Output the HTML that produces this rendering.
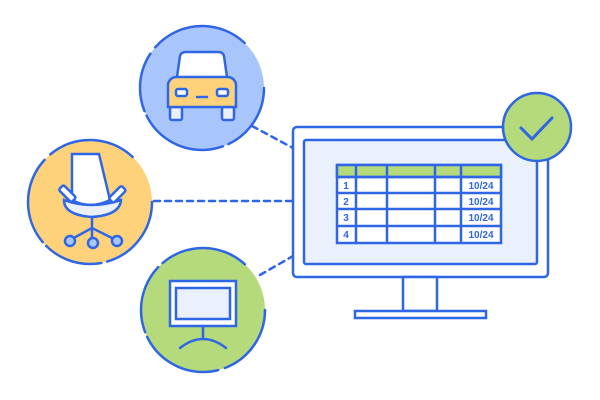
<!DOCTYPE html>
<html><head><style>body{margin:0;background:#fff}svg{display:block}</style></head><body>
<svg width="600" height="400" viewBox="0 0 600 400" xmlns="http://www.w3.org/2000/svg" font-family="Liberation Sans, sans-serif">
<g stroke="#2e66e6" stroke-width="2.5" fill="none" stroke-linecap="round">
<!-- connectors -->
<line x1="252" y1="126" x2="293" y2="148" stroke-dasharray="6 5"/>
<line x1="154" y1="201" x2="293" y2="201" stroke-dasharray="6 5"/>
<line x1="260" y1="275" x2="293" y2="256" stroke-dasharray="6 5"/>
<!-- circles -->
<circle cx="202" cy="88" r="62" fill="#a9c6fc" stroke-dasharray="70 6 90 5 60 8 100"/>
<circle cx="90" cy="202" r="62" fill="#fdd27a" stroke-dasharray="80 6 60 5 90 8 90"/>
<circle cx="203" cy="310" r="62" fill="#b5da7c" stroke-dasharray="75 7 85 5 70 6 90"/>
<!-- monitor -->
<rect x="293" y="127" width="255" height="150" rx="4" fill="#fff"/>
<rect x="304" y="140" width="233" height="124" rx="2" fill="#eaf1fd"/>
<rect x="403" y="277" width="34" height="34" fill="#fff"/>
<rect x="355" y="311" width="131" height="7" fill="#fff"/>
<!-- table -->
<rect x="337" y="165" width="164" height="78" fill="#fff"/>
<rect x="337" y="165" width="164" height="12" fill="#b5da7c"/>
<line x1="337" y1="177" x2="501" y2="177"/>
<line x1="337" y1="193" x2="501" y2="193"/>
<line x1="337" y1="209" x2="501" y2="209"/>
<line x1="337" y1="226" x2="501" y2="226"/>
<line x1="356" y1="165" x2="356" y2="243"/>
<line x1="387" y1="165" x2="387" y2="243"/>
<line x1="435" y1="165" x2="435" y2="243"/>
<line x1="461" y1="165" x2="461" y2="243"/>
<!-- check -->
<circle cx="537" cy="127" r="34" fill="#b5da7c"/>
<polyline points="521,128 532,139 552,118" stroke-width="3"/>
<!-- car -->
<path d="M177 77 L180 56 Q181 52 186 52 L218 52 Q223 52 224 56 L227 77" fill="#fff"/>
<rect x="170" y="107" width="12" height="13" rx="2" fill="#eaf1fd"/>
<rect x="222" y="107" width="12" height="13" rx="2" fill="#eaf1fd"/>
<path d="M168 107 L168 84 Q170 77 177 77 L227 77 Q234 77 236 84 L236 107 Z" fill="#fdd27a"/>
<rect x="176" y="89" width="11" height="7" rx="2" fill="#fff"/>
<rect x="217" y="89" width="11" height="7" rx="2" fill="#fff"/>
<line x1="197" y1="97" x2="207" y2="97"/>
<!-- chair -->
<path d="M72 154 L99 154 L110 200 Q90 210 72 200 Z" fill="#fff"/>
<path d="M64 200 Q90 210 121 200 Q120 215 92 217 Q64 215 64 200 Z" fill="#eaf1fd"/>
<rect x="64" y="185" width="7" height="18" rx="2" transform="rotate(-45 67 194)" fill="#fff"/>
<rect x="114" y="185" width="7" height="18" rx="2" transform="rotate(45 117 194)" fill="#fff"/>
<line x1="92" y1="217" x2="92" y2="228"/>
<polyline points="70,240 92,228 116,240" fill="none"/>
<line x1="92" y1="228" x2="92" y2="240"/>
<circle cx="70" cy="241" r="5" fill="#a9c6fc"/>
<circle cx="93" cy="243" r="5" fill="#a9c6fc"/>
<circle cx="117" cy="241" r="5" fill="#a9c6fc"/>
<!-- tv -->
<rect x="170" y="281" width="66" height="45" fill="#fff"/>
<rect x="176" y="288" width="54" height="31" fill="#eaf1fd"/>
<line x1="203" y1="326" x2="203" y2="337"/>
<path d="M180 348 Q203 330 226 348"/>
</g>
<g font-size="10" font-weight="bold" fill="#2e66e6" text-anchor="middle">
<text x="346" y="189">1</text><text x="346" y="205">2</text><text x="346" y="221">3</text><text x="346" y="238">4</text>
<text x="481" y="189">10/24</text><text x="481" y="205">10/24</text><text x="481" y="221">10/24</text><text x="481" y="238">10/24</text>
</g>
</svg>
</body></html>
